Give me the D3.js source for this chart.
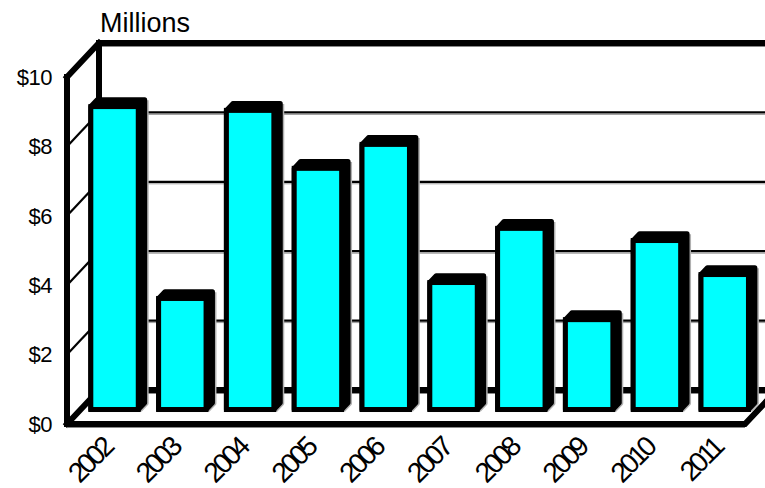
<!DOCTYPE html>
<html>
<head>
<meta charset="utf-8">
<script src="https://cdn.jsdelivr.net/npm/d3@7"></script>
<style>
  html, body { margin: 0; padding: 0; background: #fff; }
  svg { display: block; }
  text { font-family: "Liberation Sans", Arial, sans-serif; fill: #000; }
</style>
</head>
<body>
<svg id="chart" width="765" height="488"></svg>
<script>
// Annual amounts, in millions of dollars
const years = ["2002", "2003", "2004", "2005", "2006", "2007", "2008", "2009", "2010", "2011"];
const amounts = [8.73, 3.2, 8.62, 6.95, 7.64, 3.66, 5.22, 2.59, 4.87, 3.89];
const yTicks = [0, 2, 4, 6, 8, 10];
const unitLabel = "Millions";

const svg = d3.select("#chart");

// Oblique 3-D box: front plane origin, and the shift of the back wall
const X0 = 67, Y0 = 424, DX = 32, DY = -34;
const plotW = 678;

const x = d3.scaleBand().domain(years).range([0, plotW])
  .paddingInner(0.3).paddingOuter(0.15);
const y = d3.scaleLinear().domain([0, 10]).range([0, 347]);

// project (horizontal offset, value, depth 0..1) to screen coordinates
function P(px, v, t) {
  return [X0 + px + DX * t, Y0 - y(v) + DY * t];
}
const line = d3.line();

const walls = svg.append("g");

// back-wall gridlines with a soft grey shadow underneath
yTicks.filter(v => v > 0 && v < 10).forEach(v => {
  const a = P(0, v, 1), b = P(plotW, v, 1);
  walls.append("path").attr("d", line([[a[0], a[1] + 2], [b[0], b[1] + 2]]))
    .attr("stroke", "#999").attr("stroke-width", 1).attr("fill", "none");
  walls.append("path").attr("d", line([a, b]))
    .attr("stroke", "#000").attr("stroke-width", 2.2).attr("fill", "none");
  // matching line across the left side wall
  walls.append("path").attr("d", line([P(0, v, 0), P(0, v, 1)]))
    .attr("stroke", "#000").attr("stroke-width", 2.2).attr("fill", "none");
});

// heavy frame lines: top and bottom of the back wall, back corner, left wall edges
const heavy = (pts, w) => walls.append("path").attr("d", line(pts))
  .attr("stroke", "#000").attr("stroke-width", w).attr("fill", "none")
  .attr("stroke-linejoin", "miter").attr("stroke-linecap", "square");
const shade = (v) => {
  const a = P(0, v, 1), b = P(plotW, v, 1);
  walls.append("path").attr("d", line([[a[0], a[1] + 3.5], [b[0], b[1] + 3.5]]))
    .attr("stroke", "#888").attr("stroke-width", 1.2).attr("fill", "none");
};

shade(0);
heavy([P(0, 0, 1), P(plotW, 0, 1)], 6);
shade(10);
heavy([P(0, 0, 1), P(0, 10, 1), P(plotW, 10, 1)], 6);
heavy([P(0, 0, 0), P(0, 0, 1)], 6);

// bars: cyan front face, solid black top and side
const barDepth = 0.2, tFront = 0.426;
const bars = svg.append("g");
years.forEach((yr, i) => {
  const v = amounts[i];
  const x0 = x(yr), x1 = x(yr) + x.bandwidth();
  const fbl = P(x0, 0, tFront), ftl = P(x0, v, tFront), ftr = P(x1, v, tFront), fbr = P(x1, 0, tFront);
  const btl = P(x0, v, tFront + barDepth), btr = P(x1, v, tFront + barDepth), bbr = P(x1, 0, tFront + barDepth);
  // thin grey edge shadow
  bars.append("path").attr("d", line([btr, bbr, fbr].map(p => [p[0] + 1.5, p[1] + 0.5])))
    .attr("fill", "none").attr("stroke", "#b0b0b0").attr("stroke-width", 5).attr("stroke-linejoin", "round");
  bars.append("path").attr("d", line([fbl, ftl, btl, btr, bbr, fbr]) + "Z")
    .attr("fill", "#000").attr("stroke", "#000").attr("stroke-width", 5).attr("stroke-linejoin", "round");
  bars.append("rect")
    .attr("x", ftl[0]).attr("y", ftl[1])
    .attr("width", ftr[0] - ftl[0]).attr("height", fbl[1] - ftl[1])
    .attr("fill", "#00ffff").attr("stroke", "#000").attr("stroke-width", 5);
});

// front floor edge and front value axis
const front = svg.append("g");
front.append("path").attr("d", line([[X0, Y0 + 3.5], [X0 + plotW, Y0 + 3.5]]))
  .attr("stroke", "#888").attr("stroke-width", 1.2);
front.append("path").attr("d", line([P(0, 10, 0), P(0, 0, 0), P(plotW, 0, 0), P(plotW, 0, 1)]))
  .attr("stroke", "#000").attr("stroke-width", 6).attr("fill", "none")
  .attr("stroke-linejoin", "miter").attr("stroke-linecap", "square");
front.append("path").attr("d", line([P(0, 10, 0), P(0, 10, 1)]))
  .attr("stroke", "#000").attr("stroke-width", 6).attr("fill", "none").attr("stroke-linecap", "square");

// value labels
svg.append("g").selectAll("text").data(yTicks).join("text")
  .attr("x", 52).attr("y", d => P(0, d, 0)[1] + 2)
  .attr("text-anchor", "end").attr("dominant-baseline", "middle")
  .attr("font-size", 22).attr("letter-spacing", -0.5).text(d => "$" + d);

// year labels, slanted
svg.append("g").selectAll("text").data(years).join("text")
  .attr("transform", d => `translate(${X0 + x(d) + x.bandwidth() / 2 + 13},450) rotate(-45)`)
  .attr("text-anchor", "end").attr("font-size", 28).attr("letter-spacing", -3.5)
  .text(d => d);

// unit caption
svg.append("text").attr("x", 100).attr("y", 32).attr("font-size", 27).text(unitLabel);
</script>
</body>
</html>
